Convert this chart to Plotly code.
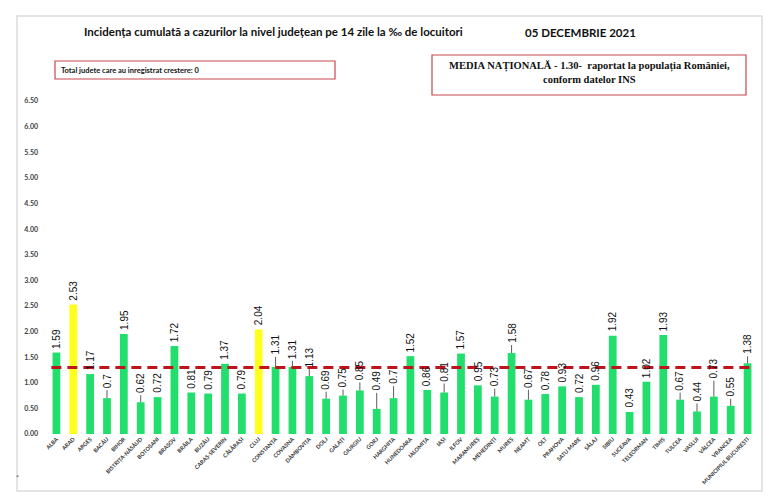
import plotly.graph_objects as go

# %% data
judete = [
    "ALBA", "ARAD", "ARGEȘ", "BACĂU", "BIHOR", "BISTRIȚA-NĂSĂUD", "BOTOȘANI",
    "BRAȘOV", "BRĂILA", "BUZĂU", "CARAȘ-SEVERIN", "CĂLĂRAȘI", "CLUJ",
    "CONSTANȚA", "COVASNA", "DÂMBOVIȚA", "DOLJ", "GALAȚI", "GIURGIU", "GORJ",
    "HARGHITA", "HUNEDOARA", "IALOMIȚA", "IAȘI", "ILFOV", "MARAMUREȘ",
    "MEHEDINȚI", "MUREȘ", "NEAMȚ", "OLT", "PRAHOVA", "SATU MARE", "SĂLAJ",
    "SIBIU", "SUCEAVA", "TELEORMAN", "TIMIȘ", "TULCEA", "VASLUI", "VÂLCEA",
    "VRANCEA", "MUNICIPIUL BUCUREȘTI",
]
incidenta = [
    1.59, 2.53, 1.17, 0.70, 1.95, 0.62, 0.72,
    1.72, 0.81, 0.79, 1.37, 0.79, 2.04,
    1.31, 1.31, 1.13, 0.69, 0.75, 0.85, 0.49,
    0.70, 1.52, 0.86, 0.81, 1.57, 0.95,
    0.73, 1.58, 0.67, 0.78, 0.93, 0.72, 0.96,
    1.92, 0.43, 1.02, 1.93, 0.67, 0.44, 0.73,
    0.55, 1.38,
]
media_nationala = 1.30
peste_prag = ["ARAD", "CLUJ"]   # judetele marcate cu galben
y_ticks = [0.0, 0.5, 1.0, 1.5, 2.0, 2.5, 3.0, 3.5, 4.0, 4.5, 5.0, 5.5, 6.0, 6.5]

# %% styling
GREEN = "#22de6c"
YELLOW = "#ffff1e"
RED = "#c0141c"

# labels pushed up with a small leader line (pixels)
label_lift = {
    "BACĂU": 6, "BISTRIȚA-NĂSĂUD": 5, "CONSTANȚA": 8, "COVASNA": 4,
    "DÂMBOVIȚA": 5, "DOLJ": 5, "GALAȚI": 4, "GIURGIU": 6, "GORJ": 14,
    "HARGHITA": 10, "IAȘI": 7, "MEHEDINȚI": 6, "MUREȘ": 6, "NEAMȚ": 8,
    "TULCEA": 5, "VASLUI": 6, "VÂLCEA": 14, "VRANCEA": 5,
    "MUNICIPIUL BUCUREȘTI": 5,
}

# page pixels -> figure pixels (body margin of the page is 8px)
OFF = 8
W, H = 775, 500
# plot area, in page pixels
L, R, T, B = 48, 756, 101, 434


def px(x):
    return (x - L) / (R - L)


def py(y):
    return (B - y) / (B - T)


colors = [YELLOW if j in peste_prag else GREEN for j in judete]

fig = go.Figure()
fig.add_trace(go.Bar(
    x=judete, y=incidenta,
    marker=dict(color=colors, line=dict(width=0)),
    hoverinfo="x+y",
))

label_font = dict(family="Liberation Sans", size=10, color="#111111")

# value labels, rotated, with leader lines where the label is lifted
for j, v in zip(judete, incidenta):
    lift = label_lift.get(j, 0)
    if lift:
        fig.add_shape(type="line", xref="x", yref="y", ysizemode="pixel",
                      yanchor=v, x0=j, x1=j, y0=0, y1=lift + 2,
                      line=dict(color="#333333", width=0.8))
    fig.add_annotation(x=j, y=v, xref="x", yref="y", text=f"{v:g}",
                       textangle=-90, showarrow=False, yanchor="bottom",
                       yshift=3 + lift, font=label_font, borderpad=0)

# national average line
fig.add_shape(type="line", xref="x", yref="y", x0=-0.3, x1=len(judete) - 0.7,
              y0=media_nationala, y1=media_nationala,
              line=dict(color=RED, width=3, dash="10px,6px"), layer="above")

# outer frame
fig.add_shape(type="rect", xref="paper", yref="paper",
              x0=px(17), x1=px(762), y0=py(491), y1=py(16),
              line=dict(color="#dcdcdc", width=1.5))

# title + date
fig.add_annotation(xref="paper", yref="paper", x=px(273), y=py(31),
                   xanchor="center", yanchor="middle",
                   text="<b>Incidența cumulată a cazurilor la nivel județean pe 14 zile la ‰ de locuitori</b>",
                   showarrow=False, font=dict(family="Lato", size=11.5, color="#111111"))
fig.add_annotation(xref="paper", yref="paper", x=px(580), y=py(33),
                   xanchor="center", yanchor="middle",
                   text="<b>05 DECEMBRIE 2021</b>",
                   showarrow=False, font=dict(family="Lato", size=11.5, color="#111111"))

# box 1
fig.add_shape(type="rect", xref="paper", yref="paper",
              x0=px(55), x1=px(335), y0=py(79), y1=py(61),
              line=dict(color="#c8474f", width=1.2))
fig.add_annotation(xref="paper", yref="paper", x=px(59), y=py(70),
                   xanchor="left", yanchor="middle",
                   text="<b>Total judete care au inregistrat crestere: 0</b>",
                   showarrow=False, font=dict(family="Lato", size=7.5, color="#111111"))

# box 2
fig.add_shape(type="rect", xref="paper", yref="paper",
              x0=px(432), x1=px(746), y0=py(95), y1=py(55),
              line=dict(color="#c8474f", width=1.2))
fig.add_annotation(xref="paper", yref="paper", x=px(589), y=py(73),
                   xanchor="center", yanchor="middle",
                   text="<b>MEDIA NAȚIONALĂ - 1.30-  raportat la populația României,</b><br><b>conform datelor INS</b>",
                   showarrow=False, align="center",
                   font=dict(family="Liberation Serif", size=10.5, color="#111111"))

fig.add_annotation(xref="paper", yref="paper", x=px(17), y=py(478),
                   xanchor="center", yanchor="middle",
                   text="*", showarrow=False, font=dict(size=7, color="#555555"))

fig.update_layout(
    width=W, height=H,
    margin=dict(l=L - OFF, r=W - R + OFF, t=T - OFF, b=H - B + OFF, pad=0),
    paper_bgcolor="white", plot_bgcolor="white",
    bargap=0.54, showlegend=False,
    font=dict(family="Lato"),
)
fig.update_xaxes(tickangle=-45,
                 tickfont=dict(family="Lato", size=5.5, color="#333333", weight="bold"),
                 showgrid=False, showline=False, ticks="", range=[-0.5, len(judete) - 0.5])
fig.update_yaxes(range=[0, 6.5], tickvals=y_ticks, tickformat=".2f",
                 tickfont=dict(family="Lato", size=7, color="#404040", weight="bold"),
                 showgrid=False, zeroline=False, showline=False, ticks="",
                 ticklabelstandoff=9)

fig.write_html("out.html")
